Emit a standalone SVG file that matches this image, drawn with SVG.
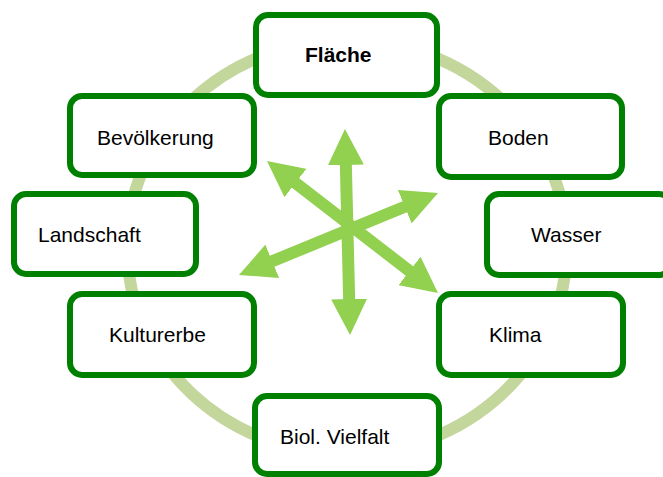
<svg xmlns="http://www.w3.org/2000/svg" width="663" height="477" viewBox="0 0 663 477">
  <style>
    .ring { fill: none; stroke: #c3d69b; stroke-width: 12; }
    .box { fill: #ffffff; stroke: #008000; stroke-width: 6; }
    .lbl { font-family: "Liberation Sans", Arial, sans-serif; font-size: 21px; fill: #000000; }
    .bold { font-weight: bold; }
    .arr { stroke: #92d050; stroke-width: 12; fill: none; marker-start: url(#head); marker-end: url(#head); }
  </style>
  <defs>
    <marker id="head" viewBox="0 0 36 36" refX="2" refY="18" markerWidth="36" markerHeight="36" markerUnits="userSpaceOnUse" orient="auto-start-reverse">
      <path d="M0,0 L36,18 L0,36 Z" fill="#92d050"/>
    </marker>
  </defs>
  <rect width="663" height="477" fill="#ffffff"/>
  <ellipse class="ring" cx="347" cy="247" rx="220" ry="207"/>
  <g id="connectors">
    <line class="arr" x1="345.8" y1="163" x2="349.2" y2="301"/>
    <line class="arr" x1="293.9" y1="181.8" x2="411.1" y2="272.2"/>
    <line class="arr" x1="406.6" y1="206" x2="270.4" y2="262"/>
  </g>
  <g id="flaeche">
    <rect class="box" x="256" y="15" width="181" height="80" rx="12"/>
    <text class="lbl bold" x="305" y="62">Fläche</text>
  </g>
  <g id="bevoelkerung">
    <rect class="box" x="70" y="96" width="184" height="79" rx="12"/>
    <text class="lbl" x="97" y="145">Bevölkerung</text>
  </g>
  <g id="boden">
    <rect class="box" x="439" y="96" width="183" height="81" rx="12"/>
    <text class="lbl" x="488" y="145">Boden</text>
  </g>
  <g id="landschaft">
    <rect class="box" x="14" y="194" width="182" height="80" rx="12"/>
    <text class="lbl" x="38" y="242">Landschaft</text>
  </g>
  <g id="wasser">
    <rect class="box" x="487" y="194" width="184" height="81" rx="12"/>
    <text class="lbl" x="531" y="242">Wasser</text>
  </g>
  <g id="kulturerbe">
    <rect class="box" x="70" y="294" width="184" height="81" rx="12"/>
    <text class="lbl" x="109" y="342">Kulturerbe</text>
  </g>
  <g id="klima">
    <rect class="box" x="439" y="294" width="184" height="81" rx="12"/>
    <text class="lbl" x="489" y="342">Klima</text>
  </g>
  <g id="biol-vielfalt">
    <rect class="box" x="255" y="396" width="184" height="78" rx="12"/>
    <text class="lbl" x="280" y="444">Biol. Vielfalt</text>
  </g>
</svg>
